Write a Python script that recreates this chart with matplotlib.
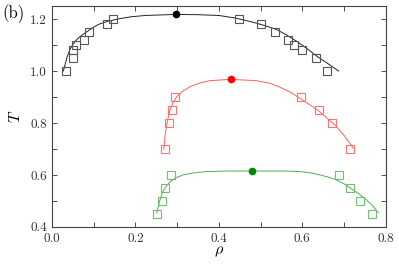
import matplotlib
matplotlib.use("Agg")
import matplotlib.pyplot as plt
from matplotlib.ticker import MultipleLocator

plt.rcParams["font.family"] = "serif"
plt.rcParams["font.serif"] = ["cmr10"]
plt.rcParams["mathtext.fontset"] = "cm"
plt.rcParams["axes.formatter.use_mathtext"] = True

# simulation points (squares)
rho_black = [0.035, 0.051, 0.051, 0.058, 0.077, 0.089, 0.131, 0.147,
             0.448, 0.502, 0.534, 0.566, 0.579, 0.599, 0.632, 0.658]
T_black = [1.00, 1.05, 1.08, 1.10, 1.12, 1.15, 1.18, 1.20,
           1.20, 1.18, 1.15, 1.12, 1.10, 1.08, 1.05, 1.00]
rho_red = [0.270, 0.280, 0.287, 0.296, 0.596, 0.639, 0.671, 0.715]
T_red = [0.70, 0.80, 0.85, 0.90, 0.90, 0.85, 0.80, 0.70]
rho_green = [0.252, 0.265, 0.271, 0.286, 0.687, 0.713, 0.738, 0.768]
T_green = [0.45, 0.50, 0.55, 0.60, 0.60, 0.55, 0.50, 0.45]

# critical points
crit_rho = [0.297, 0.429, 0.479]
crit_T = [1.218, 0.968, 0.615]

# fitted coexistence curves
fit_black_rho = [0.027, 0.030, 0.036, 0.044, 0.052, 0.060, 0.070, 0.080, 0.095,
                 0.112, 0.135, 0.160, 0.190, 0.224, 0.297, 0.350, 0.400, 0.440,
                 0.482, 0.510, 0.538, 0.562, 0.586, 0.610, 0.634, 0.660, 0.687]
fit_black_T = [1.000, 1.013, 1.052, 1.086, 1.106, 1.122, 1.136, 1.147, 1.164,
               1.180, 1.192, 1.201, 1.209, 1.214, 1.218, 1.217, 1.214, 1.204,
               1.188, 1.175, 1.160, 1.139, 1.115, 1.088, 1.058, 1.030, 1.000]
fit_red_rho = [0.268, 0.271, 0.275, 0.279, 0.283, 0.290, 0.299, 0.313, 0.331,
               0.352, 0.378, 0.428, 0.490, 0.522, 0.546, 0.570, 0.598, 0.620,
               0.642, 0.662, 0.682, 0.702, 0.722]
fit_red_T = [0.699, 0.750, 0.792, 0.823, 0.850, 0.878, 0.901, 0.922, 0.940,
             0.953, 0.963, 0.968, 0.963, 0.953, 0.938, 0.920, 0.891, 0.868,
             0.843, 0.815, 0.786, 0.748, 0.703]
fit_green_rho = [0.251, 0.255, 0.259, 0.263, 0.268, 0.275, 0.283, 0.297, 0.314,
                 0.340, 0.371, 0.420, 0.479, 0.522, 0.560, 0.594, 0.620, 0.642,
                 0.662, 0.682, 0.702, 0.722, 0.738, 0.754, 0.768, 0.782]
fit_green_T = [0.453, 0.480, 0.504, 0.524, 0.542, 0.559, 0.574, 0.589, 0.600,
               0.608, 0.613, 0.615, 0.615, 0.615, 0.615, 0.613, 0.608, 0.600,
               0.592, 0.581, 0.564, 0.542, 0.524, 0.504, 0.482, 0.455]

series = [
    (fit_black_rho, fit_black_T, rho_black, T_black, "#222222", "#555555", "black"),
    (fit_red_rho, fit_red_T, rho_red, T_red, "#ff6060", "#ff7070", "#ff0000"),
    (fit_green_rho, fit_green_T, rho_green, T_green, "#50b050", "#70c070", "#008800"),
]

fig = plt.figure(figsize=(3.99, 2.66), dpi=100)
ax = fig.add_axes([0.130, 0.147, 0.837, 0.830])

for i, (fx, fy, px, py, lc, mc, dc) in enumerate(series):
    ax.plot(fx, fy, color=lc, lw=0.7)
    ax.plot(px, py, "s", ms=6, mfc="none", mec=mc, mew=0.8)
    ax.plot(crit_rho[i], crit_T[i], "o", ms=4.5, color=dc)

ax.set_xlim(0.0, 0.8)
ax.set_ylim(0.4, 1.25)
ax.xaxis.set_major_locator(MultipleLocator(0.2))
ax.xaxis.set_minor_locator(MultipleLocator(0.1))
ax.yaxis.set_major_locator(MultipleLocator(0.2))
ax.yaxis.set_minor_locator(MultipleLocator(0.1))
ax.xaxis.set_major_formatter(plt.FuncFormatter(lambda v, p: f"{v:.1f}"))
ax.yaxis.set_major_formatter(plt.FuncFormatter(lambda v, p: f"{v:.1f}"))
ax.tick_params(which="both", direction="in", top=True, right=True,
               length=3.5, width=0.6, labelsize=9.5, colors="#333333",
               labelcolor="#333333")
ax.tick_params(axis="x", pad=4)
for s in ax.spines.values():
    s.set_linewidth(0.8)
    s.set_color("#444444")

ax.set_xlabel(r"$\rho$", fontsize=11.5, labelpad=0)
ax.set_ylabel(r"$T$", fontsize=11.5, labelpad=5)
fig.text(0.005, 0.985, "(b)", fontsize=12, va="top", ha="left")

fig.savefig("out.png", dpi=100)
